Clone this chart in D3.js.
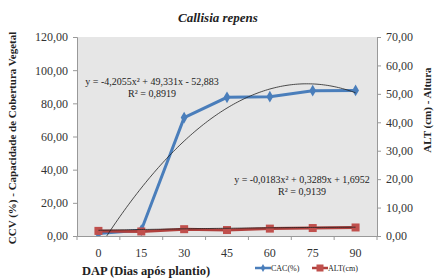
<!DOCTYPE html>
<html>
<head>
<meta charset="utf-8">
<script src="https://cdn.jsdelivr.net/npm/d3@7"></script>
<style>
  body { margin: 0; background: #fff; }
</style>
</head>
<body>
<div id="chart"></div>
<script>
// chart data
var days = ["0", "15", "30", "45", "60", "75", "90"];
var cac = [1.5, 3.5, 71.4, 83.6, 84.0, 87.6, 87.8];      // CAC(%) - left axis
var alt = [1.8, 1.6, 2.4, 2.1, 2.6, 2.8, 3.0];           // ALT(cm) - right axis
var leftTicks = [0, 20, 40, 60, 80, 100, 120];
var rightTicks = [0, 10, 20, 30, 40, 50, 60, 70];
// polynomial trendline coefficients (a, b, c) as printed
var cacTrend = [-4.2055, 49.331, -52.883];
var altTrend = [-0.0183, 0.3289, 1.6952];
var cacEq = ["y = -4,2055x² + 49,331x - 52,883", "R² = 0,8919"];
var altEq = ["y = -0,0183x² + 0,3289x + 1,6952", "R² = 0,9139"];

var FONT = "'Liberation Serif', 'Times New Roman', serif";
var W = 438, H = 280;
var margin = {left: 77, right: 61, top: 37, bottom: 44};
var iw = W - margin.left - margin.right, ih = H - margin.top - margin.bottom;

var svg = d3.select("#chart").append("svg")
  .attr("width", W).attr("height", H)
  .style("font-family", FONT);

var x = d3.scaleBand().domain(days).range([0, iw]).paddingInner(0).paddingOuter(0);
var yL = d3.scaleLinear().domain([0, 120]).range([ih, 0]);
var yR = d3.scaleLinear().domain([0, 70]).range([ih, 0]);
// trendline x is the point index 1..7
var xi = d3.scaleLinear().domain([1, days.length])
  .range([x(days[0]) + x.bandwidth() / 2, x(days[days.length - 1]) + x.bandwidth() / 2]);

function fmt(v) { return d3.format(".2f")(v).replace(".", ","); }

function label(sel, size, bold) {
  return sel.style("font-family", FONT).style("font-size", size + "px")
    .style("font-weight", bold ? "bold" : "normal").attr("fill", "#222");
}

label(svg.append("text").attr("x", 218).attr("y", 22)
  .attr("text-anchor", "middle"), 13, true)
  .style("font-style", "italic")
  .text("Callisia repens");

var g = svg.append("g").attr("transform", "translate(" + margin.left + "," + margin.top + ")");

g.append("rect").attr("width", iw).attr("height", ih).attr("fill", "#e6e6e6");

svg.append("defs").append("clipPath").attr("id", "plotclip")
  .append("rect").attr("width", iw).attr("height", ih);

// axes
var axL = g.append("g").call(d3.axisLeft(yL).tickValues(leftTicks).tickSize(4).tickPadding(5).tickFormat(fmt));
var axR = g.append("g").attr("transform", "translate(" + iw + ",0)")
  .call(d3.axisRight(yR).tickValues(rightTicks).tickSize(4).tickPadding(5).tickFormat(fmt));
var axB = g.append("g").attr("transform", "translate(0," + ih + ")")
  .call(d3.axisBottom(x).tickSize(0).tickPadding(12));
// tick marks between categories
axB.selectAll(".sep").data(d3.range(days.length + 1)).enter().append("line")
  .attr("x1", function(i) { return i * x.step(); })
  .attr("x2", function(i) { return i * x.step(); })
  .attr("y1", 0).attr("y2", 4).attr("stroke", "#999");

[axL, axR, axB].forEach(function(a) {
  a.attr("font-family", null).attr("font-size", null);
  a.select(".domain").attr("stroke", "#999");
  a.selectAll(".tick line").attr("stroke", "#999");
  label(a.selectAll("text"), 12, false).attr("fill", "#333");
});

var plot = g.append("g").attr("clip-path", "url(#plotclip)");

// series lines
var lineL = d3.line().x(function(d, i) { return x(days[i]) + x.bandwidth() / 2; })
  .y(function(d) { return yL(d); });
var lineR = d3.line().x(function(d, i) { return x(days[i]) + x.bandwidth() / 2; })
  .y(function(d) { return yR(d); });

plot.append("path").datum(cac).attr("d", lineL)
  .attr("fill", "none").attr("stroke", "#4a7ebb").attr("stroke-width", 3);
plot.selectAll(".mcac").data(cac).enter().append("path")
  .attr("transform", function(d, i) { return "translate(" + (x(days[i]) + x.bandwidth() / 2) + "," + yL(d) + ")"; })
  .attr("d", d3.symbol().type(d3.symbolDiamond).size(40))
  .attr("fill", "#4a7ebb");

plot.append("path").datum(alt).attr("d", lineR)
  .attr("fill", "none").attr("stroke", "#b0403d").attr("stroke-width", 3);
plot.selectAll(".malt").data(alt).enter().append("rect")
  .attr("x", function(d, i) { return x(days[i]) + x.bandwidth() / 2 - 4; })
  .attr("y", function(d) { return yR(d) - 4; })
  .attr("width", 8).attr("height", 8).attr("fill", "#c0504d");

// trendlines
function poly(c, t) { return c[0] * t * t + c[1] * t + c[2]; }
var ts = d3.range(1, days.length + 0.001, 0.05);
plot.append("path").datum(ts)
  .attr("d", d3.line().x(function(t) { return xi(t); }).y(function(t) { return yL(Math.max(-5, poly(cacTrend, t))); }))
  .attr("fill", "none").attr("stroke", "#222").attr("stroke-width", 0.8);
plot.append("path").datum(ts)
  .attr("d", d3.line().x(function(t) { return xi(t); }).y(function(t) { return yR(poly(altTrend, t)); }))
  .attr("fill", "none").attr("stroke", "#222").attr("stroke-width", 0.8);

// equations
function eq(lines, cx, cy) {
  lines.forEach(function(s, i) {
    label(svg.append("text").attr("x", cx).attr("y", cy + i * 12)
      .attr("text-anchor", "middle"), 10, false).text(s);
  });
}
eq(cacEq, 152, 85);
eq(altEq, 302, 183);

// axis titles
label(svg.append("text").attr("transform", "translate(16,138) rotate(-90)")
  .attr("text-anchor", "middle"), 11, true)
  .text("CCV (%) - Capacidade de Cobertura Vegetal");
label(svg.append("text").attr("transform", "translate(431,110) rotate(-90)")
  .attr("text-anchor", "middle"), 11, true)
  .text("ALT (cm) - Altura");
label(svg.append("text").attr("x", 146).attr("y", 275)
  .attr("text-anchor", "middle"), 12.5, true)
  .text("DAP (Dias após plantio)");

// legend
var leg = svg.append("g").attr("transform", "translate(255,268)");
leg.append("line").attr("x1", 0).attr("x2", 16).attr("stroke", "#4a7ebb").attr("stroke-width", 2.5);
leg.append("path").attr("transform", "translate(8,0)").attr("d", d3.symbol().type(d3.symbolDiamond).size(18)).attr("fill", "#4a7ebb");
label(leg.append("text").attr("x", 16).attr("y", 3), 8, false).text("CAC(%)");
leg.append("line").attr("x1", 57).attr("x2", 73).attr("stroke", "#b0403d").attr("stroke-width", 2.5);
leg.append("rect").attr("x", 61.5).attr("y", -3.5).attr("width", 7).attr("height", 7).attr("fill", "#c0504d");
label(leg.append("text").attr("x", 73).attr("y", 3), 8, false).text("ALT(cm)");
</script>
</body>
</html>
